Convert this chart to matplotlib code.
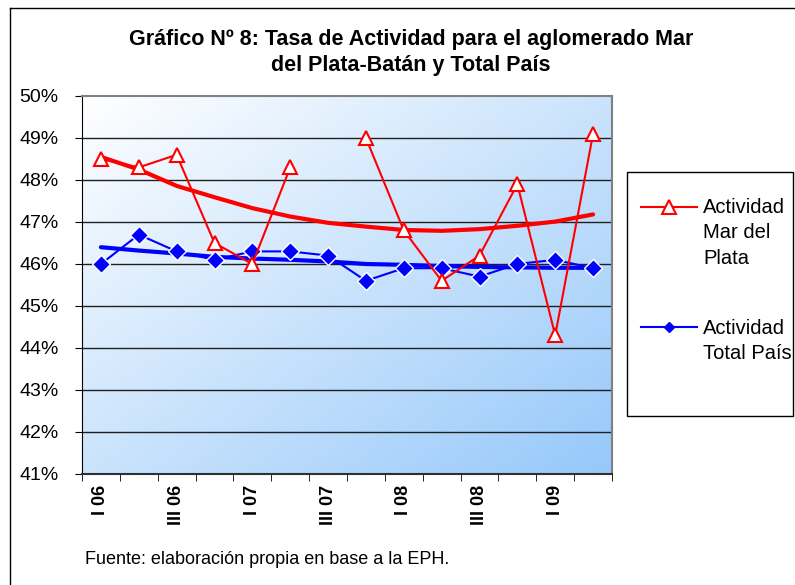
import numpy as np
import matplotlib
matplotlib.use('Agg')
import matplotlib.pyplot as plt
from matplotlib.lines import Line2D
from matplotlib.patches import Rectangle

plt.rcParams['font.family'] = ['Liberation Sans', 'DejaVu Sans']

# Datos (trimestres 2006-2009)
trimestres = ['I 06', 'II 06', 'III 06', 'IV 06', 'I 07', 'II 07', 'III 07',
              'IV 07', 'I 08', 'II 08', 'III 08', 'IV 08', 'I 09', 'II 09']
mar_del_plata = [48.5, 48.3, 48.6, 46.5, 46.0, 48.3, np.nan,
                 49.0, 46.8, 45.6, 46.2, 47.9, 44.3, 49.1]
total_pais = [46.0, 46.7, 46.3, 46.1, 46.3, 46.3, 46.2,
              45.6, 45.9, 45.9, 45.7, 46.0, 46.1, 45.9]
# lineas de tendencia
tend_mdp = [48.55, 48.25, 47.86, 47.59, 47.33, 47.13, 46.98,
            46.89, 46.81, 46.79, 46.83, 46.91, 47.01, 47.18]
tend_pais = [46.40, 46.32, 46.25, 46.17, 46.13, 46.10, 46.06,
             46.00, 45.98, 45.95, 45.93, 45.92, 45.91, 45.91]

W, H = 795, 585
fig = plt.figure(figsize=(W / 100, H / 100), dpi=100)


def fx(px):
    return px / W


def fy(py):
    return 1 - py / H


# marco exterior
fig.add_artist(Line2D([fx(10), fx(10)], [fy(8), 0], color='black', lw=1))
fig.add_artist(Line2D([fx(10), 1], [fy(8), fy(8)], color='black', lw=1))

ax = fig.add_axes([fx(82), fy(474), fx(612) - fx(82), fy(96) - fy(474)])
x = np.arange(len(trimestres))

# fondo degradado
gx, gy = np.meshgrid(np.linspace(0, 1, 200), np.linspace(0, 1, 200))
t = (gx + gy) / 2
c0 = np.array([1.0, 1.0, 1.0])
c1 = np.array([150, 200, 250]) / 255
img = c0 + (c1 - c0) * t[..., None]
ax.imshow(img, extent=[0, 1, 0, 1], transform=ax.transAxes, aspect='auto',
          zorder=0, origin='upper')

ax.set_xlim(-0.5, len(trimestres) - 0.5)
ax.set_ylim(41, 50)

for v in range(42, 50):
    ax.axhline(v, color='#202020', lw=1, zorder=1)

ax.plot(x, tend_mdp, color='red', lw=3, zorder=2, solid_capstyle='round')
ax.plot(x, tend_pais, color='blue', lw=3, zorder=2, solid_capstyle='round')
ax.plot(x, total_pais, color='blue', lw=1.5, marker='D', ms=9,
        mfc='blue', mec='white', mew=1, zorder=3)
ax.plot(x, mar_del_plata, color='red', lw=1.5, marker='^', ms=10,
        mfc='white', mec='red', mew=1.5, zorder=4)

ax.set_yticks(range(41, 51))
ax.set_yticklabels([f'{v}%' for v in range(41, 51)], fontsize=14)
ax.set_xticks(x[::2])
ax.set_xticklabels(trimestres[::2], rotation=90, fontsize=13, fontweight='bold')
ax.set_xticks(np.arange(-0.5, len(trimestres)), minor=True)
ax.tick_params(axis='x', which='major', length=0, pad=8)
ax.tick_params(axis='x', which='minor', length=5, direction='out', color='black')
ax.tick_params(axis='y', length=5, direction='out', pad=12, color='black')

for s in ['top', 'right']:
    ax.spines[s].set_color('#808080')
    ax.spines[s].set_linewidth(1.5)
ax.spines['left'].set_color('black')
ax.spines['bottom'].set_color('#303030')
ax.spines['bottom'].set_linewidth(1.5)

fig.text(fx(411), fy(40), 'Gráfico Nº 8: Tasa de Actividad para el aglomerado Mar',
         ha='center', va='center', fontsize=15.5, fontweight='bold')
fig.text(fx(411), fy(65), 'del Plata-Batán y Total País',
         ha='center', va='center', fontsize=15.5, fontweight='bold')

fig.text(fx(85), fy(560), 'Fuente: elaboración propia en base a la EPH.',
         ha='left', va='center', fontsize=13)

# leyenda
fig.add_artist(Rectangle((fx(627), fy(416)), fx(793) - fx(627), fy(172) - fy(416),
                         fill=True, facecolor='white', edgecolor='black', lw=1))
fig.add_artist(Line2D([fx(641), fx(697)], [fy(207), fy(207)], color='red', lw=1.5))
fig.add_artist(Line2D([fx(669)], [fy(207)], marker='^', ms=10, mfc='white',
                      mec='red', mew=1.5, color='red'))
fig.add_artist(Line2D([fx(641), fx(697)], [fy(327), fy(327)], color='blue', lw=1.5))
fig.add_artist(Line2D([fx(669)], [fy(327)], marker='D', ms=5, mfc='blue',
                      mec='blue', color='blue'))
fig.text(fx(703), fy(198), 'Actividad\nMar del\nPlata', ha='left', va='top',
         fontsize=14.5, linespacing=1.42)
fig.text(fx(703), fy(319), 'Actividad\nTotal País', ha='left', va='top',
         fontsize=14.5, linespacing=1.42)

fig.savefig('out.png', dpi=100)
